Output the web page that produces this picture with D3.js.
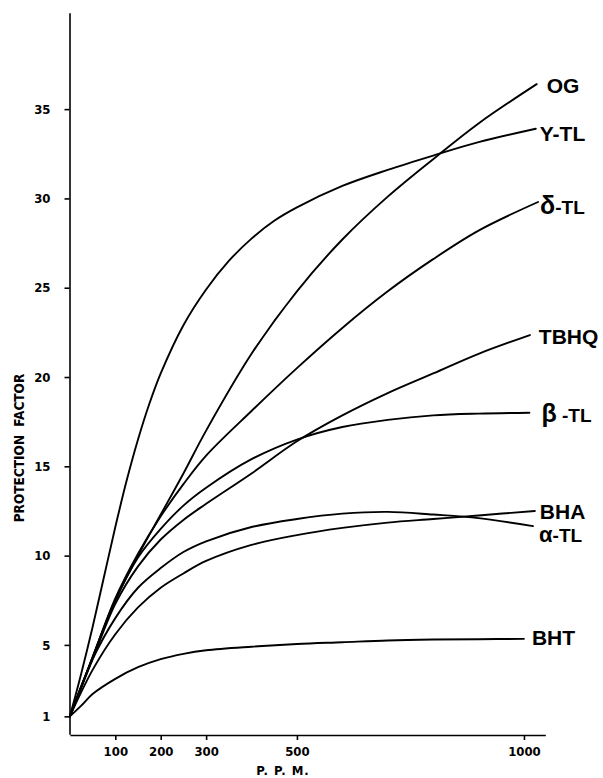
<!DOCTYPE html>
<html>
<head>
<meta charset="utf-8">
<script src="https://cdn.jsdelivr.net/npm/d3@7"></script>
<style>
  html, body { margin: 0; padding: 0; background: #fff; }
  svg { display: block; }
  .tick text { font-family: "Liberation Sans Narrow", "DejaVu Sans Condensed", "Arial Narrow", sans-serif; font-weight: bold; font-stretch: condensed; }
</style>
</head>
<body>
<svg id="chart" width="603" height="778"></svg>
<script>
// ---------- data (ppm, protection factor) ----------
const seriesNames = ["OG", "Y-TL", "δ-TL", "TBHQ", "β-TL", "BHA", "α-TL", "BHT"];

const ppmOG   = [0, 50, 100, 150, 200, 250, 300, 400, 500, 600, 700, 800, 900, 1028];
const valOG   = [1, 4.3, 7.5, 10.0, 12.3, 14.6, 17.0, 21.3, 24.8, 27.7, 30.1, 32.2, 34.2, 36.4];

const ppmYTL  = [0, 25, 50, 75, 100, 125, 150, 175, 200, 250, 300, 350, 400, 450, 500, 600, 700, 800, 900, 1026];
const valYTL  = [1, 3.4, 6.0, 8.8, 11.6, 14.2, 16.5, 18.5, 20.2, 22.9, 24.9, 26.5, 27.75, 28.75, 29.5, 30.7, 31.6, 32.4, 33.15, 33.9];

const ppmDTL  = [0, 50, 100, 150, 200, 250, 300, 400, 500, 600, 700, 800, 900, 1031];
const valDTL  = [1, 4.3, 7.6, 10.1, 12.2, 14.0, 15.6, 18.1, 20.5, 22.75, 24.8, 26.6, 28.2, 29.8];

const ppmTBHQ = [0, 50, 100, 150, 200, 250, 300, 400, 500, 600, 700, 800, 900, 1013];
const valTBHQ = [1, 4.2, 7.3, 9.4, 10.9, 12.0, 12.9, 14.6, 16.4, 17.85, 19.1, 20.2, 21.3, 22.35];

const ppmBTL  = [0, 50, 100, 150, 200, 250, 300, 400, 500, 600, 700, 800, 900, 1012];
const valBTL  = [1, 4.3, 7.5, 9.9, 11.5, 12.8, 13.8, 15.4, 16.5, 17.2, 17.6, 17.85, 17.95, 18.0];

const ppmBHA  = [0, 50, 100, 150, 200, 250, 300, 400, 500, 600, 700, 800, 900, 1024];
const valBHA  = [1, 3.6, 5.6, 7.1, 8.2, 9.0, 9.7, 10.6, 11.15, 11.55, 11.85, 12.05, 12.25, 12.5];

const ppmATL  = [0, 50, 100, 150, 200, 250, 300, 400, 500, 600, 700, 800, 900, 1020];
const valATL  = [1, 4.2, 6.5, 8.2, 9.3, 10.2, 10.8, 11.6, 12.05, 12.35, 12.45, 12.3, 12.1, 11.65];

const ppmBHT  = [0, 25, 50, 100, 150, 200, 250, 300, 400, 500, 600, 700, 800, 900, 1000];
const valBHT  = [1, 1.6, 2.25, 3.1, 3.75, 4.2, 4.5, 4.7, 4.9, 5.05, 5.15, 5.25, 5.3, 5.32, 5.34];

const xTicks = [100, 200, 300, 500, 1000];
const yTicks = [1, 5, 10, 15, 20, 25, 30, 35];
const xTitle = "P. P. M.";
const yTitle = "PROTECTION FACTOR";

// ---------- layout ----------
const svg = d3.select("#chart");
const x = d3.scaleLinear().domain([0, 1047]).range([69.9, 545.3]);
const y = d3.scaleLinear().domain([0, 40.4]).range([734.2, 12.7]);

const narrow = '"Liberation Sans Narrow", "DejaVu Sans Condensed", "Arial Narrow", sans-serif';
const bold = '"Liberation Sans", Arial, Helvetica, sans-serif';

// axes
const yAxis = d3.axisLeft(y).tickValues(yTicks).tickSize(5).tickSizeOuter(0).tickPadding(14);
const gy = svg.append("g").attr("transform", "translate(69.5,0)").call(yAxis);
gy.select(".domain").attr("stroke", "#000").attr("stroke-width", 1.6);
gy.selectAll(".tick line").attr("stroke", "#000").attr("stroke-width", 1.6);
gy.selectAll(".tick text").attr("font-size", 13).attr("fill", "#000");

const xAxis = d3.axisBottom(x).tickValues(xTicks).tickFormat(d3.format("d"))
  .tickSize(5).tickSizeOuter(0).tickPadding(7);
const gx = svg.append("g").attr("transform", "translate(0,735)").call(xAxis);
gx.select(".domain").attr("stroke", "#000").attr("stroke-width", 1.6);
gx.selectAll(".tick line").attr("stroke", "#000").attr("stroke-width", 1.6);
gx.selectAll(".tick text").attr("font-size", 13).attr("fill", "#000");

// axis titles
svg.append("text")
  .attr("x", 283).attr("y", 775)
  .attr("text-anchor", "middle")
  .attr("font-family", narrow).attr("font-weight", "bold")
  .attr("font-size", 13).attr("letter-spacing", 1)
  .text(xTitle);

svg.append("text")
  .attr("transform", "translate(24,448) rotate(-90)")
  .attr("text-anchor", "middle")
  .attr("font-family", narrow).attr("font-weight", "bold")
  .attr("font-size", 13.5).attr("word-spacing", 4)
  .text(yTitle);

// curves
const allPpm = [ppmOG, ppmYTL, ppmDTL, ppmTBHQ, ppmBTL, ppmBHA, ppmATL, ppmBHT];
const allVal = [valOG, valYTL, valDTL, valTBHQ, valBTL, valBHA, valATL, valBHT];
const series = seriesNames.map((n, i) => ({
  name: n,
  pts: allPpm[i].map((p, j) => [p, allVal[i][j]])
}));

const line = d3.line().x(d => x(d[0])).y(d => y(d[1])).curve(d3.curveCatmullRom.alpha(0.5));

svg.append("g").selectAll("path").data(series).join("path")
  .attr("d", d => line(d.pts))
  .attr("fill", "none")
  .attr("stroke", "#000")
  .attr("stroke-width", 1.9)
  .attr("stroke-linecap", "round");

// labels at line ends
const labelOffset = {
  "OG":   [10, 1],
  "Y-TL": [4, 5],
  "δ-TL": [2, 4],
  "TBHQ": [9, 1],
  "β-TL": [12, 2],
  "BHA":  [5, 0],
  "α-TL": [6, 8],
  "BHT":  [8, -1]
};

const labels = svg.append("g").selectAll("text").data(series).join("text")
  .attr("x", d => x(d.pts[d.pts.length - 1][0]) + labelOffset[d.name][0])
  .attr("y", d => y(d.pts[d.pts.length - 1][1]) + labelOffset[d.name][1])
  .attr("dy", "0.36em")
  .attr("font-family", bold)
  .attr("font-weight", "bold")
  .attr("font-size", 21)
  .attr("fill", "#000");

labels.each(function(d) {
  const t = d3.select(this);
  const first = d.name[0];
  if ("δβα".includes(first)) {
    t.append("tspan").attr("font-size", first === "α" ? 22 : 25).text(first);
    t.append("tspan").attr("font-size", 19).text(first === "β" ? " -TL" : "-TL");
  } else {
    t.text(d.name);
  }
});
</script>
</body>
</html>
